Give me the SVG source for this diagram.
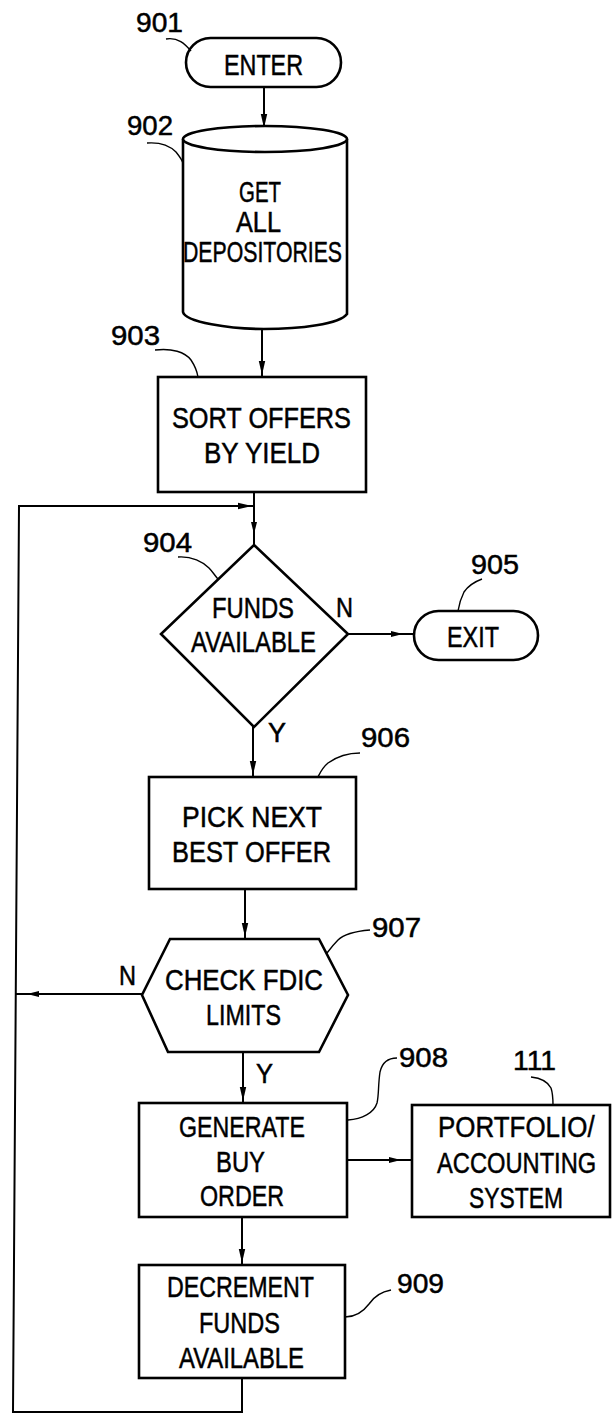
<svg xmlns="http://www.w3.org/2000/svg" width="612" height="1414" viewBox="0 0 612 1414">
<style>
.s{fill:#fff;stroke:#000;stroke-width:2.6;stroke-linejoin:miter}
.c{fill:none;stroke:#000;stroke-width:2}
.l{fill:none;stroke:#000;stroke-width:1.4}
text{font-family:"Liberation Sans",Arial,sans-serif;fill:#000;stroke:#000;stroke-width:0.5}
.t{font-size:30px}
.n{font-size:28px}
</style>
<defs>
<marker id="a" markerUnits="userSpaceOnUse" markerWidth="20" markerHeight="10" viewBox="0 0 20 8" refX="16" refY="4" orient="auto"><path d="M0,0.8 L14,4 L0,7.2 Z" fill="#000"/></marker>
<marker id="b" markerUnits="userSpaceOnUse" markerWidth="30" markerHeight="10" viewBox="0 0 30 8" refX="23" refY="4" orient="auto"><path d="M0,1 L12,4 L0,7 Z" fill="#000"/></marker>
</defs>
<g id="connectors">
<path class="c" d="M264,87 L264,130" marker-end="url(#a)"/>
<path class="c" d="M262,329 L262,377" marker-end="url(#a)"/>
<path class="c" d="M254,492 L254,545" marker-end="url(#b)"/>
<path class="c" d="M242,1378 L242,1412 L13,1412 L19,506 L254,506" marker-end="url(#a)"/>
<path class="c" d="M348,634 L414,634" marker-end="url(#b)"/>
<path class="c" d="M253,727 L253,777" marker-end="url(#a)"/>
<path class="c" d="M245,889 L245,939" marker-end="url(#a)"/>
<path class="c" d="M142,994 L16,994" marker-end="url(#b)"/>
<path class="c" d="M243,1052 L243,1103" marker-end="url(#a)"/>
<path class="c" d="M347,1160 L412,1160" marker-end="url(#b)"/>
<path class="c" d="M242,1217 L242,1265" marker-end="url(#a)"/>
</g>
<g id="n901">
<rect class="s" x="186" y="38" width="155" height="49" rx="24.5"/>
<text class="t" x="224" y="75" textLength="79" lengthAdjust="spacingAndGlyphs">ENTER</text>
<path class="l" d="M166,39 C178,37 185,44 191,51"/>
<text class="n" x="136" y="32" textLength="47" lengthAdjust="spacingAndGlyphs">901</text>
</g>
<g id="n902">
<path class="s" d="M183,139 L183,312 C185,322 230,329 264,329 C300,329 340,324 347,314 L347,139"/>
<ellipse class="s" cx="265" cy="139" rx="82" ry="13"/>
<text class="t" x="239" y="202" textLength="42" lengthAdjust="spacingAndGlyphs">GET</text>
<text class="t" x="236" y="232" textLength="45" lengthAdjust="spacingAndGlyphs">ALL</text>
<text class="t" x="183" y="262" textLength="159" lengthAdjust="spacingAndGlyphs">DEPOSITORIES</text>
<path class="l" d="M147,143 C160,142 170,146 176,152 C180,157 182,160 183,163"/>
<text class="n" x="127" y="135" textLength="46" lengthAdjust="spacingAndGlyphs">902</text>
</g>
<g id="n903">
<rect class="s" x="158" y="377" width="208" height="115"/>
<text class="t" x="172" y="428" textLength="179" lengthAdjust="spacingAndGlyphs">SORT OFFERS</text>
<text class="t" x="204" y="463" textLength="116" lengthAdjust="spacingAndGlyphs">BY YIELD</text>
<path class="l" d="M155,350 C172,348 185,352 191,360 C195,366 197,371 198,377"/>
<text class="n" x="111" y="345" textLength="49" lengthAdjust="spacingAndGlyphs">903</text>
</g>
<g id="n904">
<polygon class="s" points="254,545 348,634 254,727 161,634"/>
<text class="t" x="212" y="618" textLength="82" lengthAdjust="spacingAndGlyphs">FUNDS</text>
<text class="t" x="191" y="652" textLength="125" lengthAdjust="spacingAndGlyphs">AVAILABLE</text>
<text class="n" x="336" y="617" textLength="17" lengthAdjust="spacingAndGlyphs">N</text>
<text class="n" x="268" y="742" textLength="18" lengthAdjust="spacingAndGlyphs">Y</text>
<path class="l" d="M178,557 C192,556 203,562 209,568 C213,572 215,576 218,579"/>
<text class="n" x="143" y="552" textLength="49" lengthAdjust="spacingAndGlyphs">904</text>
</g>
<g id="n905">
<rect class="s" x="414" y="611" width="124" height="49" rx="24.5"/>
<text class="t" x="447" y="647" textLength="52" lengthAdjust="spacingAndGlyphs">EXIT</text>
<path class="l" d="M482,579 C474,582 468,586 464,592 C461,598 459,604 458,611"/>
<text class="n" x="471" y="574" textLength="48" lengthAdjust="spacingAndGlyphs">905</text>
</g>
<g id="n906">
<rect class="s" x="149" y="777" width="207" height="112"/>
<text class="t" x="182" y="827" textLength="140" lengthAdjust="spacingAndGlyphs">PICK NEXT</text>
<text class="t" x="172" y="862" textLength="159" lengthAdjust="spacingAndGlyphs">BEST OFFER</text>
<path class="l" d="M360,753 C345,753 335,758 328,763 C322,768 320,773 318,777"/>
<text class="n" x="361" y="747" textLength="49" lengthAdjust="spacingAndGlyphs">906</text>
</g>
<g id="n907">
<polygon class="s" points="170,939 319,939 348,995 319,1052 168,1052 142,995"/>
<text class="t" x="165" y="990" textLength="158" lengthAdjust="spacingAndGlyphs">CHECK FDIC</text>
<text class="t" x="206" y="1025" textLength="75" lengthAdjust="spacingAndGlyphs">LIMITS</text>
<text class="n" x="119" y="985" textLength="17" lengthAdjust="spacingAndGlyphs">N</text>
<text class="n" x="256" y="1083" textLength="17" lengthAdjust="spacingAndGlyphs">Y</text>
<path class="l" d="M370,930 C358,931 345,933 338,940 C333,945 330,949 327,953"/>
<text class="n" x="372" y="937" textLength="49" lengthAdjust="spacingAndGlyphs">907</text>
</g>
<g id="n908">
<rect class="s" x="139" y="1103" width="208" height="114"/>
<text class="t" x="179" y="1137" textLength="126" lengthAdjust="spacingAndGlyphs">GENERATE</text>
<text class="t" x="216" y="1172" textLength="49" lengthAdjust="spacingAndGlyphs">BUY</text>
<text class="t" x="200" y="1206" textLength="84" lengthAdjust="spacingAndGlyphs">ORDER</text>
<path class="l" d="M397,1058 C388,1058 382,1063 380,1072 C378,1085 379,1095 377,1103 C374,1113 362,1119 348,1120"/>
<text class="n" x="399" y="1067" textLength="49" lengthAdjust="spacingAndGlyphs">908</text>
</g>
<g id="n111">
<rect class="s" x="412" y="1105" width="198" height="112"/>
<text class="t" transform="translate(438,1137) scale(0.865,1)" x="0" y="0">PORTFOLIO/</text>
<text class="t" transform="translate(437,1173) scale(0.79,1)" x="0" y="0">ACCOUNTING</text>
<text class="t" x="469" y="1208" textLength="94" lengthAdjust="spacingAndGlyphs">SYSTEM</text>
<path class="l" d="M531,1077 C540,1078 548,1082 551,1088 C553,1094 553,1100 553,1105"/>
<text class="n" x="513" y="1070" textLength="43" lengthAdjust="spacingAndGlyphs">111</text>
</g>
<g id="n909">
<rect class="s" x="139" y="1265" width="206" height="113"/>
<text class="t" x="167" y="1297" textLength="147" lengthAdjust="spacingAndGlyphs">DECREMENT</text>
<text class="t" x="199" y="1333" textLength="81" lengthAdjust="spacingAndGlyphs">FUNDS</text>
<text class="t" x="179" y="1368" textLength="125" lengthAdjust="spacingAndGlyphs">AVAILABLE</text>
<path class="l" d="M391,1290 C380,1292 373,1298 369,1304 C363,1312 356,1317 345,1317"/>
<text class="n" x="397" y="1293" textLength="47" lengthAdjust="spacingAndGlyphs">909</text>
</g>
</svg>
